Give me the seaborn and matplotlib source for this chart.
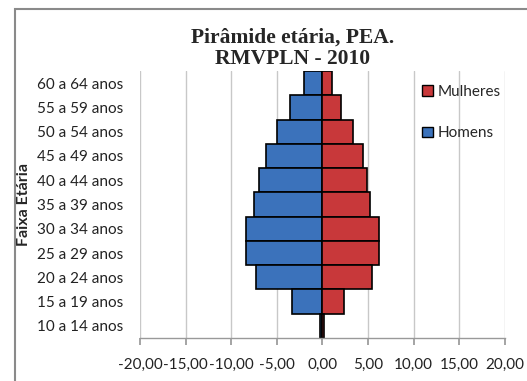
import matplotlib
matplotlib.use("Agg")
import matplotlib.pyplot as plt
import matplotlib.patches as mpatches
import seaborn as sns
import pandas as pd

faixas = ["60 a 64 anos", "55 a 59 anos", "50 a 54 anos", "45 a 49 anos",
          "40 a 44 anos", "35 a 39 anos", "30 a 34 anos", "25 a 29 anos",
          "20 a 24 anos", "15 a 19 anos", "10 a 14 anos"]
homens = [-2.03, -3.56, -4.95, -6.23, -6.92, -7.5, -8.42, -8.42, -7.29, -3.31, -0.27]
mulheres = [1.0, 2.0, 3.38, 4.4, 4.84, 5.2, 6.16, 6.23, 5.39, 2.39, 0.16]
xticks = [-20, -15, -10, -5, 0, 5, 10, 15, 20]
xtick_labels = ["-20,00", "-15,00", "-10,00", "-5,00", "0,00", "5,00", "10,00", "15,00", "20,00"]

BLUE = "#3b72bb"
RED = "#c8383a"

df = pd.DataFrame({
    "faixa": faixas * 2,
    "valor": homens + mulheres,
    "sexo": ["Homens"] * len(faixas) + ["Mulheres"] * len(faixas),
})

sns.set_theme(style="white")
plt.rcParams["font.family"] = ["Lato", "DejaVu Sans"]

fig = plt.figure(figsize=(5.27, 3.81), dpi=100)
ax = fig.add_axes([0.2657, 0.1129, 0.6925, 0.7007])

sns.barplot(data=df, y="faixa", x="valor", hue="sexo", order=faixas,
            hue_order=["Homens", "Mulheres"], palette={"Homens": BLUE, "Mulheres": RED},
            dodge=False, width=1.0, orient="h", ax=ax, legend=False,
            edgecolor="black", linewidth=1.2, saturation=1)

ax.set_xlim(-20, 20)
ax.set_ylim(len(faixas) - 0.5, -0.5)
ax.set_xticks(xticks)
ax.set_xticklabels(xtick_labels, fontsize=11, color="#222222")
ax.tick_params(axis="y", labelsize=11, colors="#222222", length=0, pad=12)
ax.tick_params(axis="x", length=5, color="#999999", direction="out", pad=9, bottom=True)
for x in xticks:
    ax.axvline(x, color="#c8c8c8", lw=1.0, zorder=0)
for s in ["top", "right", "left"]:
    ax.spines[s].set_visible(False)
ax.spines["bottom"].set_color("#999999")
ax.spines["bottom"].set_linewidth(1.0)
ax.set_xlabel("")
ax.set_ylabel("Faixa Etária", fontsize=11.5, fontweight="bold", labelpad=2)
ax.yaxis.set_label_coords(-0.30, 0.5)

fig.text(0.555, 0.874, "Pirâmide etária, PEA.\nRMVPLN - 2010", ha="center", va="center",
         fontsize=15.5, fontweight="bold", family=["Liberation Serif"], linespacing=1.1)

handles = [mpatches.Patch(facecolor=RED, edgecolor="black", label="Mulheres"),
           mpatches.Patch(facecolor=BLUE, edgecolor="black", label="Homens")]
leg = ax.legend(handles=handles, loc="upper left", bbox_to_anchor=(0.735, 1.0),
                frameon=False, fontsize=11, handlelength=0.7, handleheight=0.7,
                handletextpad=0.3, labelspacing=1.8)

# outer chart border
fig.patches.append(mpatches.Rectangle((15 / 527, -0.1), 1.2, 1 - 9 / 381 + 0.1,
                   transform=fig.transFigure, fill=False, edgecolor="#8a8a8a", lw=1.5))

fig.savefig("out.png", dpi=100)
